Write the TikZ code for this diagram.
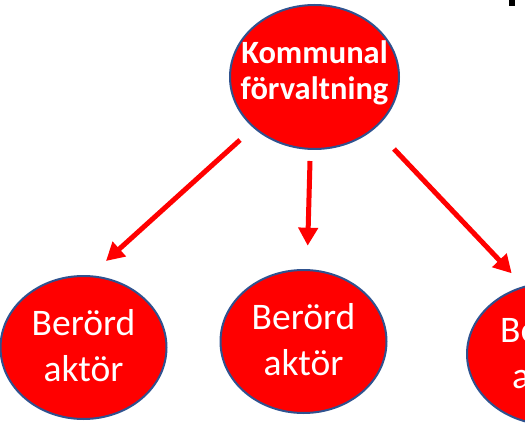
\documentclass[tikz,border=0pt]{standalone}
\usepackage{fontspec}
\setmainfont{Carlito}
\usetikzlibrary{shapes.geometric,arrows.meta}
\definecolor{ovred}{HTML}{FF0000}
\definecolor{ovedge}{HTML}{2F528F}
\tikzset{
  oval/.style={ellipse, fill=ovred, draw=ovedge, line width=2pt, inner sep=0pt},
  topoval/.style={oval, minimum width=169pt, minimum height=144pt},
  actoval/.style={oval, minimum width=166pt, minimum height=143pt},
  toptext/.style={text=white, align=center, inner sep=0pt,
    font=\fontsize{32.5}{36}\selectfont\bfseries},
  acttext/.style={text=white, align=center, inner sep=0pt,
    font=\fontsize{37.5}{46}\selectfont},
  redarrow/.style={draw=ovred, line width=5pt, -{Triangle[width=19pt,length=18pt]}}
}
\begin{document}
\begin{tikzpicture}[x=1pt,y=-1pt]
\useasboundingbox (0,0) rectangle (525,425);
\clip (0,0) rectangle (525,425);
\fill[white] (0,0) rectangle (525,425);
\node[topoval] (top) at (314.5,77) {};
\node[actoval] (left) at (83.5,347.5) {};
\node[actoval] (mid) at (303.5,341.5) {};
\node[actoval, minimum width=170pt, minimum height=142pt] (right) at (552,354) {};
\node[toptext] (toptxt) at ([yshift=4pt]top.center) {Kommunal\\förvaltning};
\node[acttext] (lefttxt) at ([yshift=1.5pt]left.center) {Berörd\\aktör};
\node[acttext] (midtxt) at ([yshift=1.5pt]mid.center) {Berörd\\aktör};
\node[acttext] (righttxt) at ([yshift=1.5pt]right.center) {Berörd\\aktör};
\coordinate (ls) at (240,140);
\coordinate (le) at (106,261);
\coordinate (ms) at (310,161);
\coordinate (me) at (307.7,245.7);
\coordinate (rs) at (394,149);
\coordinate (re) at (511.7,273.3);
\draw[redarrow] (ls) -- (le);
\draw[redarrow] (ms) -- (me);
\draw[redarrow] (rs) -- (re);
\fill[black] (508.5,0) rectangle (515,6);
\end{tikzpicture}
\end{document}
